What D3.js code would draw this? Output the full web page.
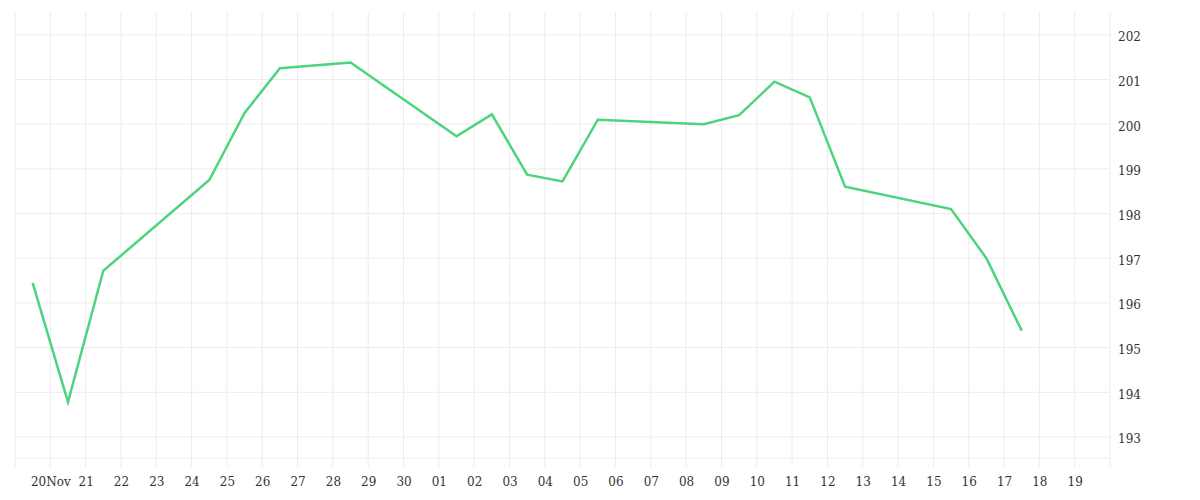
<!DOCTYPE html>
<html>
<head>
<meta charset="utf-8">
<script src="https://cdn.jsdelivr.net/npm/d3@7"></script>
<style>
  body { margin: 0; background: #fff; }
  text { font-family: "DejaVu Serif", serif; font-size: 12px; fill: #333; }
</style>
</head>
<body>
<svg width="1200" height="500"></svg>
<script>
var dates = ['2023-11-19', '2023-11-20', '2023-11-21', '2023-11-24', '2023-11-25', '2023-11-26',
    '2023-11-28', '2023-12-01', '2023-12-02', '2023-12-03', '2023-12-04', '2023-12-05',
    '2023-12-08', '2023-12-09', '2023-12-10', '2023-12-11', '2023-12-12', '2023-12-15',
    '2023-12-16', '2023-12-17'];
var values = [196.45, 193.78, 196.72, 198.75, 200.25, 201.25, 201.38, 199.73, 200.22, 198.87,
    198.72, 200.10, 200.00, 200.20, 200.95, 200.60, 198.60, 198.10, 197.00, 195.38];
var yTicks = [193, 194, 195, 196, 197, 198, 199, 200, 201, 202];

var svg = d3.select('svg');
var parse = d3.timeParse('%Y-%m-%d');
var data = dates.map(function(d, i) {
    return { t: d3.timeHour.offset(parse(d), 12), v: values[i] };
});

var xScale = d3.scaleTime()
    .range([15, 1110])
    .domain([parse('2023-11-19'), parse('2023-12-20')]);

var yScale = d3.scaleLinear()
    .range([458, 12])
    .domain([192.53, 202.51]);

var days = d3.timeDay.range(parse('2023-11-19'), parse('2023-12-21'));

// grid
svg.append('g')
    .selectAll('line')
    .data(days)
    .enter().append('line')
    .attr('x1', function(d) { return xScale(d); })
    .attr('x2', function(d) { return xScale(d); })
    .attr('y1', 12).attr('y2', 467)
    .attr('stroke', '#ececec');

svg.append('g')
    .selectAll('line')
    .data(yTicks)
    .enter().append('line')
    .attr('x1', 15).attr('x2', 1110)
    .attr('y1', function(d) { return yScale(d); })
    .attr('y2', function(d) { return yScale(d); })
    .attr('stroke', '#ececec');

svg.append('line')
    .attr('x1', 15).attr('x2', 1110)
    .attr('y1', 458).attr('y2', 458)
    .attr('stroke', '#ececec');

// axes
var xAxis = svg.append('g')
    .attr('transform', 'translate(0,467)')
    .call(d3.axisBottom(xScale)
        .tickValues(days.slice(1, 31))
        .tickSize(0)
        .tickPadding(10)
        .tickFormat(function(d) {
            return d.getDate() === 20 && d.getMonth() === 10 ? '20Nov' : d3.timeFormat('%d')(d);
        }));
xAxis.select('.domain').remove();
xAxis.selectAll('text').attr('fill', '#333');

var yAxis = svg.append('g')
    .attr('transform', 'translate(1110,2)')
    .call(d3.axisRight(yScale).tickValues(yTicks).tickSize(0).tickPadding(8));
yAxis.select('.domain').remove();
yAxis.selectAll('text').attr('fill', '#333');

// line
svg.append('path')
    .datum(data)
    .attr('d', d3.line()
        .x(function(d) { return xScale(d.t); })
        .y(function(d) { return yScale(d.v); }))
    .attr('fill', 'none')
    .attr('stroke', '#4cd47e')
    .attr('stroke-width', 2.5);
</script>
</body>
</html>
